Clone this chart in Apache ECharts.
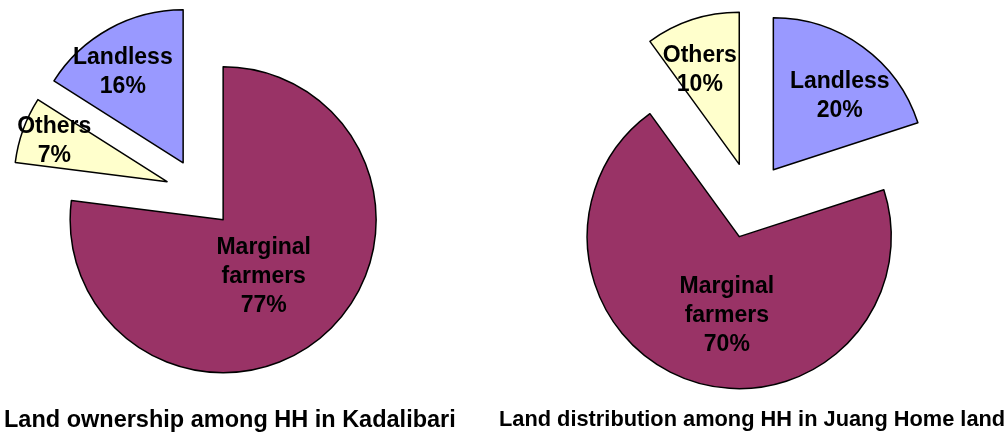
<!DOCTYPE html>
<html>
<head>
<meta charset="utf-8">
<title>Land ownership / distribution</title>
<script src="https://cdn.jsdelivr.net/npm/echarts@6/dist/echarts.min.js"></script>
<style>
  html, body { margin: 0; padding: 0; background: #fff; }
  #chart { width: 1008px; height: 436px; }
</style>
</head>
<body>
<div id="chart"></div>
<script>
// left pie - Kadalibari (clockwise from 12 o'clock)
const kadalibariCategories = ['Marginal farmers', 'Others', 'Landless']
const kadalibariValues = [77, 7, 16]
// right pie - Juang Home land
const juangCategories = ['Landless', 'Marginal farmers', 'Others']
const juangValues = [20, 70, 10]
const chartTitles = ['Land ownership among HH in Kadalibari', 'Land distribution among HH in Juang Home land']

const sliceColors = { 'Marginal farmers': '#993366', 'Others': '#FFFFCC', 'Landless': '#9999FF' }
// nudge of each label away from its default inside spot (px)
const kadalibariLabelShift = [[-12, -3], [-38, -14], [-22, -21]]
const juangLabelShift = [[20, -10], [12, 4], [-15, -19]]

const font = "'Liberation Sans', Arial, sans-serif"

// label box is centred on its anchor, so uneven padding moves the text
function shiftPadding (s) {
  const dx = s[0]
  const dy = s[1]
  return [dy > 0 ? 2 * dy : 0, dx < 0 ? -2 * dx : 0, dy < 0 ? -2 * dy : 0, dx > 0 ? 2 * dx : 0]
}

function buildData (names, values, shifts) {
  return names.map((name, i) => ({
    name: name,
    value: values[i],
    selected: true,
    itemStyle: { color: sliceColors[name] },
    label: { padding: shiftPadding(shifts[i]) }
  }))
}

function pieSeries (center, radius, offset, data) {
  return {
    type: 'pie',
    center: center,
    radius: radius,
    startAngle: 90,
    clockwise: true,
    // every slice is pulled out of the pie
    selectedMode: 'multiple',
    selectedOffset: offset,
    avoidLabelOverlap: false,
    labelLayout: { hideOverlap: false },
    itemStyle: { borderColor: '#000', borderWidth: 1.5 },
    label: {
      show: true,
      position: 'inside',
      // rich text so that vertical padding is honoured too
      formatter: p => (p.name.split(' ').concat([p.value + '%'])).map(s => '{t|' + s + '}').join('\n'),
      rich: {
        t: { color: '#000', fontFamily: font, fontWeight: 'bold', fontSize: 23, lineHeight: 29 }
      }
    },
    labelLine: { show: false },
    emphasis: { disabled: true },
    data: data
  }
}

const chart = echarts.init(document.getElementById('chart'), null, { renderer: 'canvas' })
chart.setOption({
  animation: false,
  backgroundColor: '#fff',
  title: [
    {
      text: chartTitles[0],
      left: 4,
      top: 409,
      padding: 0,
      textStyle: { fontFamily: font, fontWeight: 'bold', fontSize: 23.5, color: '#000' }
    },
    {
      text: chartTitles[1],
      left: 499,
      top: 409,
      padding: 0,
      textStyle: { fontFamily: font, fontWeight: 'bold', fontSize: 21.8, color: '#000' }
    }
  ],
  series: [
    pieSeries([200, 193.5], 153, 35, buildData(kadalibariCategories, kadalibariValues, kadalibariLabelShift)),
    pieSeries([751, 200.5], 152, 38, buildData(juangCategories, juangValues, juangLabelShift))
  ]
})
</script>
</body>
</html>
